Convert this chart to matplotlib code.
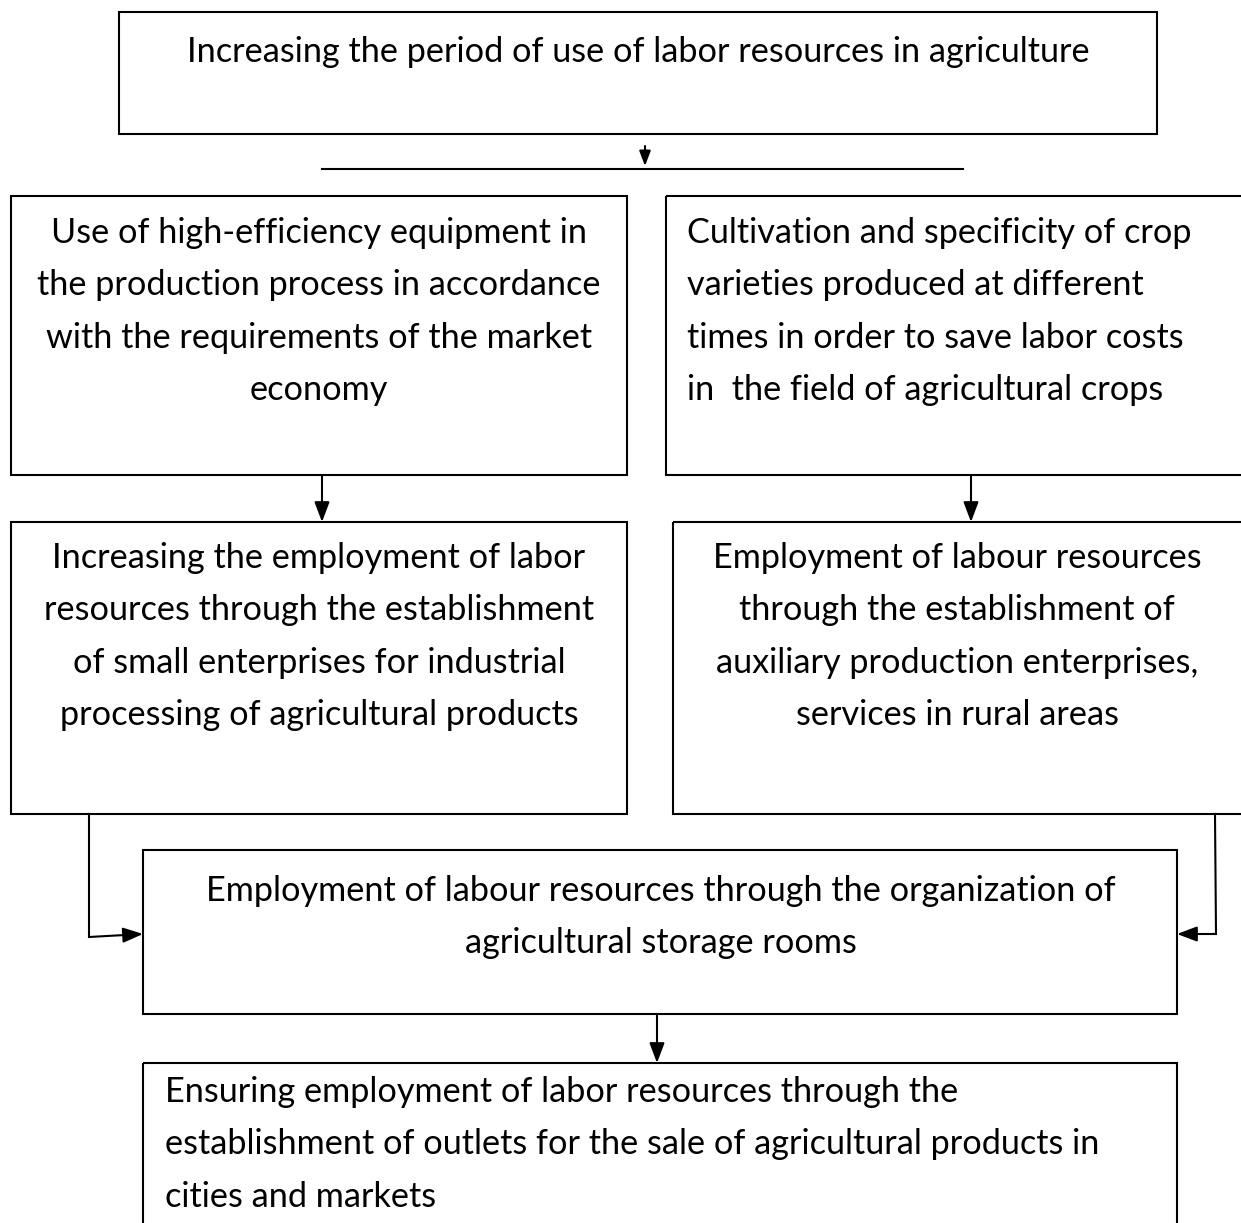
import matplotlib
matplotlib.use("Agg")
import matplotlib.pyplot as plt
from matplotlib.patches import Rectangle

# Тексты блоков схемы
top_text = ["Increasing the period of use of labor resources in agriculture"]
left1_text = ["Use of high-efficiency equipment in",
              "the production process in accordance",
              "with the requirements of the market",
              "economy"]
right1_text = ["Cultivation and specificity of crop",
               "varieties produced at different",
               "times in order to save labor costs",
               "in  the field of agricultural crops"]
left2_text = ["Increasing the employment of labor",
              "resources through the establishment",
              "of small enterprises for industrial",
              "processing of agricultural products"]
right2_text = ["Employment of labour resources",
               "through the establishment of",
               "auxiliary production enterprises,",
               "services in rural areas"]
storage_text = ["Employment of labour resources through the organization of",
                "agricultural storage rooms"]
outlets_text = ["Ensuring employment of labor resources through the",
                "establishment of outlets for the sale of agricultural products in",
                "cities and markets"]

W, H = 1241, 1223
LW = 1.5
FS = 24.7
LINE = 52.3

plt.rcParams['font.family'] = ['Lato', 'DejaVu Sans']

fig = plt.figure(figsize=(W / 100, H / 100), dpi=100)
ax = fig.add_axes([0, 0, 1, 1])
ax.set_xlim(0, W)
ax.set_ylim(H, 0)
ax.axis('off')


def box(x0, y0, x1, y1):
    ax.add_patch(Rectangle((x0, y0), x1 - x0, y1 - y0, fill=False,
                           edgecolor='black', linewidth=LW, clip_on=True))


def lines(text, x, y, ha='center'):
    for i, t in enumerate(text):
        ax.text(x, y + i * LINE, t, ha=ha, va='baseline', fontsize=FS, color='black')


def arrow(x0, y0, x1, y1, ms=27):
    ax.annotate('', xy=(x1, y1), xytext=(x0, y0),
                arrowprops=dict(arrowstyle='-|>,head_length=0.45,head_width=0.17',
                                color='black', lw=LW, mutation_scale=ms,
                                shrinkA=0, shrinkB=0))


# Блоки
box(119, 12, 1157, 134)
box(11, 196, 627, 475)
box(666, 196, 1260, 475)
box(11, 522, 627, 814)
box(673, 522, 1260, 814)
box(143, 850, 1177, 1014)
box(143, 1063, 1177, 1260)

# Тексты
lines(top_text, 638, 62)
lines(left1_text, 319, 243)
lines(right1_text, 687, 243, ha='left')
lines(left2_text, 319, 568)
lines(right2_text, 957, 568)
lines(storage_text, 661, 901)
lines(outlets_text, 165, 1102, ha='left')

# Соединительные линии и стрелки
arrow(645, 146, 645, 166, ms=20)
ax.plot([322, 963], [169, 169], color='black', lw=LW)
arrow(322, 475, 322, 522)
arrow(971, 475, 971, 522)
ax.plot([89, 89], [814, 937], color='black', lw=LW)
arrow(89, 937, 143, 934)
ax.plot([1215, 1216], [814, 934], color='black', lw=LW)
arrow(1216, 934, 1177, 934)
arrow(657, 1014, 657, 1063)

fig.savefig('out.png', dpi=100)
